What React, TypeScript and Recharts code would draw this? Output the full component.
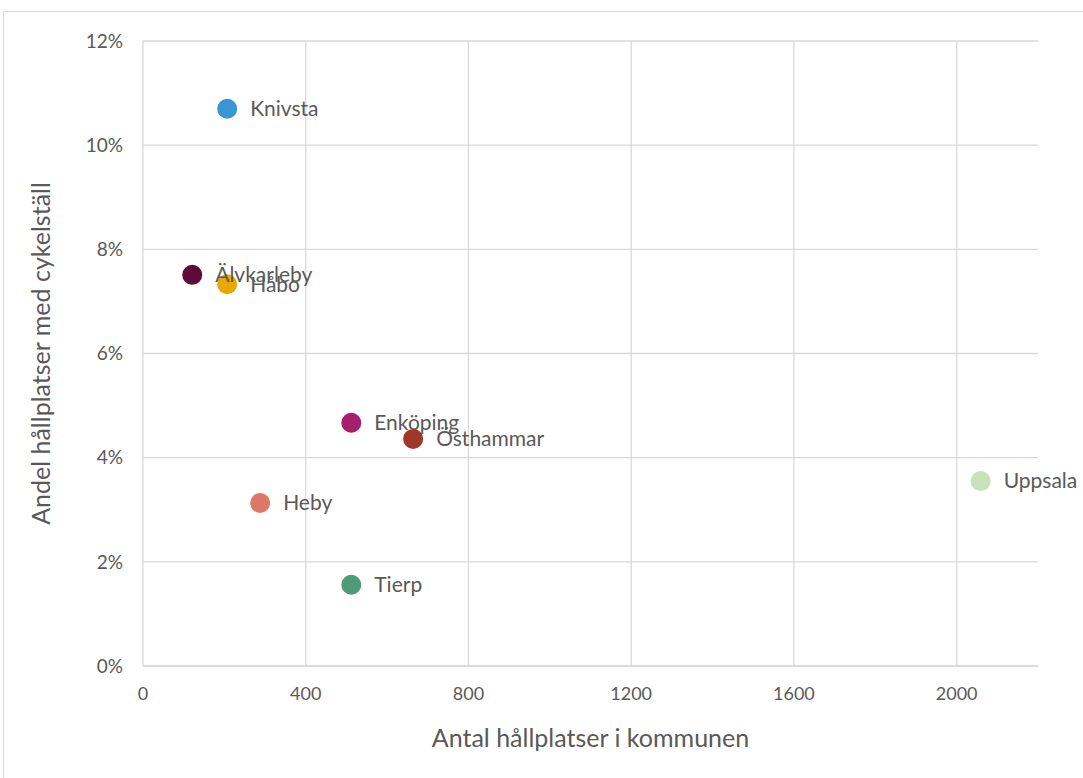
import React from 'react'
import {
  ScatterChart, Scatter, XAxis, YAxis, CartesianGrid, Cell, LabelList,
} from 'recharts'

const NAMES = ['Knivsta', 'Älvkarleby', 'Håbo', 'Enköping', 'Östhammar', 'Heby', 'Tierp', 'Uppsala']
const STOPS = [207, 121, 207, 512, 664, 288, 512, 2059]
const SHARE = [0.107, 0.0751, 0.0733, 0.0467, 0.0436, 0.0313, 0.0156, 0.0355]
const COLORS = ['#3a95d5', '#5e0c35', '#e9a700', '#a61f6b', '#9e3828', '#de7866', '#4f9b78', '#c8e1b6']

const X_TICKS = [0, 400, 800, 1200, 1600, 2000]
const Y_TICKS = [0, 0.02, 0.04, 0.06, 0.08, 0.1, 0.12]

const FONT = 'Lato, "Open Sans", sans-serif'
const TEXT = '#595959'
const GRID = '#d9d9d9'

const data = NAMES.map((name, i) => ({ name, x: STOPS[i], y: SHARE[i] }))

function Dot(props: any) {
  const { cx, cy, fill } = props
  return <circle cx={cx} cy={cy} r={10} fill={fill} />
}

function PointLabel(props: any) {
  const { x, y, width, height, value } = props
  const cx = x + width / 2
  const cy = y + height / 2
  return (
    <text x={cx + 23} y={cy} dy="0.35em" fill={TEXT} fontSize={21} fontFamily={FONT}>
      {value}
    </text>
  )
}

export default function App() {
  return (
    <div style={{ position: 'absolute', left: 0, top: 0, width: 1083, height: 778, background: '#fff', overflow: 'hidden' }}>
      <div style={{ position: 'absolute', left: 3, top: 11, width: 1100, height: 780, border: `1px solid ${GRID}` }} />
      <div style={{ position: 'absolute', left: 0, top: 0 }}>
        <ScatterChart width={1083} height={778} margin={{ top: 41, right: 45, bottom: 22, left: 30 }}>
          <CartesianGrid stroke={GRID} strokeWidth={1.3} verticalValues={X_TICKS} horizontalValues={Y_TICKS} />
          <XAxis
            type="number"
            dataKey="x"
            domain={[0, 2200]}
            ticks={X_TICKS}
            allowDataOverflow
            height={90}
            axisLine={{ stroke: GRID, strokeWidth: 1.3 }}
            tickLine={false}
            tickSize={0}
            tickMargin={21}
            tick={{ fill: TEXT, fontSize: 18, fontFamily: FONT }}
            label={{ value: 'Antal hållplatser i kommunen', position: 'insideBottom', offset: 9, fill: TEXT, fontSize: 25, fontFamily: FONT }}
          />
          <YAxis
            type="number"
            dataKey="y"
            domain={[0, 0.12]}
            ticks={Y_TICKS}
            width={113}
            axisLine={false}
            tickLine={false}
            tickSize={0}
            tickMargin={20}
            tickFormatter={(v: number) => `${Math.round(v * 100)}%`}
            tick={{ fill: TEXT, fontSize: 19, fontFamily: FONT }}
            label={{ value: 'Andel hållplatser med cykelställ', angle: -90, position: 'insideLeft', offset: 11, fill: TEXT, fontSize: 25, fontFamily: FONT, style: { textAnchor: 'middle' } }}
          />
          <Scatter data={data} isAnimationActive={false} shape={<Dot />} legendType="none">
            {data.map((d, i) => (
              <Cell key={d.name} fill={COLORS[i]} />
            ))}
            <LabelList dataKey="name" content={<PointLabel />} />
          </Scatter>
        </ScatterChart>
      </div>
    </div>
  )
}
